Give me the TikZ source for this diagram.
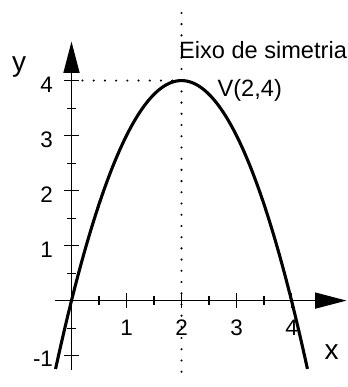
\documentclass[tikz,border=0pt]{standalone}
\usepackage{fontspec}
\setmainfont{Liberation Sans}
\usetikzlibrary{arrows.meta}
\begin{document}
\begin{tikzpicture}[x=1cm,y=1cm,
  axis/.style={line width=0.8pt,-{Triangle[length=0.57cm,width=0.29cm]}},
  tickmark/.style={line width=0.6pt},
  dotline/.style={line width=1.2pt,line cap=round,dash pattern=on 0pt off 5.8pt},
  curve/.style={line width=1.6pt},
  numlabel/.style={inner sep=0pt,font=\fontsize{11.6}{13}\selectfont},
  axlabel/.style={inner sep=0pt,font=\fontsize{14.5}{17}\selectfont},
  txtlabel/.style={inner sep=0pt,font=\fontsize{12.2}{14}\selectfont}]
\useasboundingbox (-1.30,-1.571) rectangle (5.01,5.465);
% coordinates
\coordinate (O) at (0,0);
\coordinate (xs) at (-0.30,0);
\coordinate (xe) at (5.0,0);
\coordinate (ys) at (0,-1.26);
\coordinate (ye) at (0,4.71);
\coordinate (V) at (2,4);
\coordinate (vtop) at (2,5.23);
\coordinate (vbot) at (2,-1.41);
\coordinate (hstart) at (0.2,4);
% dotted lines
\draw[dotline] (vtop) -- (vbot);
\draw[dotline] (hstart) -- (V);
% ticks
\foreach \t in {1,2,3,4} \draw[tickmark] (\t,-0.14) -- (\t,0.14);
\foreach \t in {0.5,1.5,2.5,3.5} \draw[tickmark] (\t,-0.08) -- (\t,0.08);
\foreach \t in {-1,1,2,3,4} \draw[tickmark] (-0.14,\t) -- (0.14,\t);
\foreach \t in {-0.5,0.5,1.5,2.5,3.5} \draw[tickmark] (-0.08,\t) -- (0.08,\t);
% axes
\draw[axis] (xs) -- (xe);
\draw[axis] (ys) -- (ye);
% curve
\draw[curve] plot[domain=-0.29:4.29,samples=120,smooth] (\x,{4*\x-\x*\x});
% labels
\foreach \n in {1,2,3,4} \node[numlabel,anchor=base] (xl\n) at (\n,-0.64) {\n};
\foreach \n in {1,2,3,4} \node[numlabel,anchor=base east] (yl\n) at (-0.33,\n-0.21) {\n};
\node[numlabel,anchor=base east] (ylm1) at (-0.33,-1.19) {-1};
\node[axlabel,anchor=base] (xlab) at (4.73,-1.08) {x};
\node[axlabel,anchor=base] (ylab) at (-0.95,4.16) {y};
\node[txtlabel,anchor=base west] (eixo) at (1.95,4.41) {Eixo de simetria};
\node[txtlabel,anchor=base west] (vlab) at (2.65,3.71) {V(2,4)};
\end{tikzpicture}
\end{document}
